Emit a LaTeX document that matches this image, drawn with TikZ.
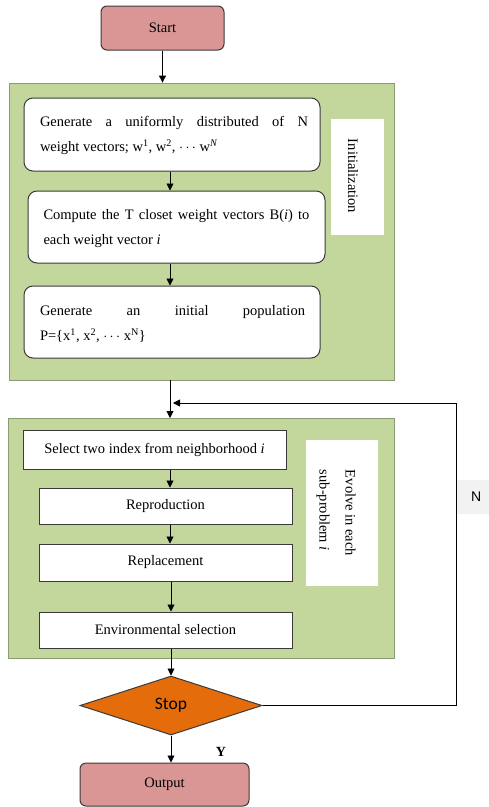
\documentclass[tikz,border=0pt]{standalone}
\usepackage{fontspec}
\setmainfont{Liberation Serif}
\newfontfamily\calib{Carlito}
\newfontfamily\arialf{Liberation Sans}
\usetikzlibrary{shapes.geometric,arrows.meta}
\definecolor{pinkf}{HTML}{D99694}
\definecolor{greenf}{HTML}{C3D69B}
\definecolor{greenb}{HTML}{8C9C72}
\definecolor{orangef}{HTML}{E46C0A}
\definecolor{edgec}{HTML}{3A3A3A}
\begin{document}
\begin{tikzpicture}[x=1pt,y=-1pt,
  font=\fontsize{14.5}{25}\selectfont,
  arr/.style={draw=black,line width=0.9pt,-{Triangle[length=7pt,width=7pt]}},
  termbox/.style={draw=edgec,line width=1pt,fill=pinkf,rounded corners=6pt,inner sep=0pt},
  greenbox/.style={draw=greenb,line width=0.8pt,fill=greenf,inner sep=0pt},
  roundbox/.style={draw=edgec,line width=1pt,fill=white,rounded corners=9pt,inner sep=0pt},
  sqbox/.style={draw=edgec,line width=1pt,fill=white,inner sep=0pt},
  labbox/.style={fill=white,inner sep=0pt},
  txt/.style={inner sep=0pt,align=justify}
]
\useasboundingbox (0,0) rectangle (488,807);
% start
\node[termbox,minimum width=123,minimum height=44] (start) at (162.5,28) {Start};
% init group
\node[greenbox,minimum width=385,minimum height=297] (g1) at (201.5,231.5) {};
\node[roundbox,minimum width=296,minimum height=73] (b1) at (172,134.5) {};
\node[txt,text width=268] (t1) at (174,135.5) {Generate a uniformly distributed of N\linebreak weight vectors;\ w\textsuperscript{1}, w\textsuperscript{2}, $\cdots$ w\textsuperscript{\textit{N}}};
\node[roundbox,minimum width=297,minimum height=72] (b2) at (176.5,227) {};
\node[txt,text width=266] (t2) at (176.5,228.5) {Compute the T closet weight vectors B(\textit{i}) to\linebreak each weight vector \textit{i}};
\node[roundbox,minimum width=296,minimum height=72] (b3) at (172,322) {};
\node[txt,text width=265] (t3) at (172.5,324) {Generate an initial population\linebreak P=\{x\textsuperscript{1}, x\textsuperscript{2}, $\cdots$ x\textsuperscript{N}\}};
\node[labbox,minimum width=53,minimum height=116] (initl) at (357.5,177) {};
\node[inner sep=0pt,rotate=-90] (initt) at (353,176) {Initialization};
% evolve group
\node[greenbox,minimum width=386,minimum height=240] (g2) at (201,538) {};
\node[sqbox,minimum width=263,minimum height=39] (sel) at (154.5,449.5) {Select two index from neighborhood \textit{i}};
\node[sqbox,minimum width=253,minimum height=36] (rep) at (165.5,506) {Reproduction};
\node[sqbox,minimum width=253,minimum height=37] (repl) at (165.5,562.5) {Replacement};
\node[sqbox,minimum width=253,minimum height=36] (env) at (165.5,630) {Environmental selection};
\node[labbox,minimum width=72,minimum height=146] (evl) at (342,513) {};
\node[inner sep=0pt,rotate=-90,align=left,font=\fontsize{14.5}{26}\selectfont] (evt) at (336,513) {Evolve in each\\sub-problem \textit{i}};
% decision
\node[diamond,draw=edgec,line width=1pt,fill=orangef,aspect=3.1,inner sep=0pt,minimum width=182,minimum height=59,font=\calib\fontsize{17.5}{20}\selectfont] (stop) at (171,705.5) {Stop};
\node[termbox,minimum width=169,minimum height=43] (out) at (164.5,784.5) {Output};
% labels
\node[inner sep=0pt,font=\bfseries\fontsize{14}{16}\selectfont] (ylab) at (221,752) {Y};
\node[fill=black!5,minimum width=40,minimum height=34,inner sep=0pt,anchor=west,font=\arialf\fontsize{14}{16}\selectfont] (nlab) at (456,497) {N};
% connectors
\draw[arr] (start.south) -- (start.south |- g1.north);
\draw[arr] (b1.south -| 170,0) -- (b2.north -| 170,0);
\draw[arr] (b2.south -| 170,0) -- (b3.north -| 170,0);
\coordinate (g1b) at (170,380);
\coordinate (g2t) at (170,418);
\draw[arr] (g1b) -- (g2t);
\draw[arr] (sel.south -| 170,0) -- (rep.north -| 170,0);
\draw[arr] (rep.south -| 170,0) -- (repl.north -| 170,0);
\draw[arr] (repl.south -| 171,0) -- (env.north -| 171,0);
\draw[arr] (env.south -| 171,0) -- (stop.north);
\draw[arr] (stop.south) -- (stop.south |- out.north);
\coordinate (fbR) at (456,403);
\coordinate (fbL) at (173,403);
\draw[arr,line width=0.8pt] (stop.east) -| (fbR) -- (fbL);
\end{tikzpicture}
\end{document}
